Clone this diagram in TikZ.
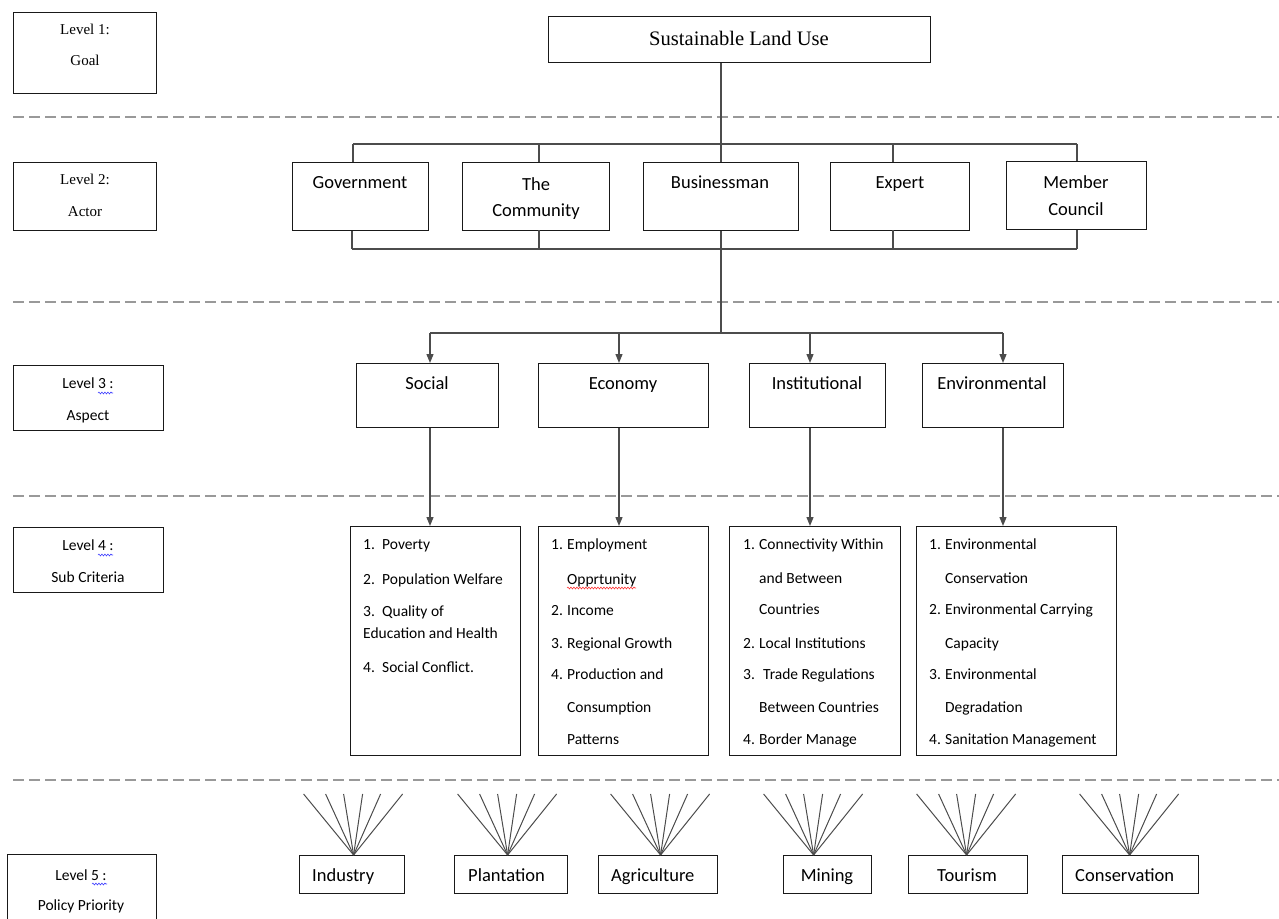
\documentclass[tikz,border=0pt]{standalone}
\usepackage{fontspec}
\setmainfont{Liberation Serif}
\newfontfamily\calfont{Carlito}
\usetikzlibrary{arrows.meta,decorations.pathmorphing}
\newcommand{\bx}[5]{\node[box, anchor=north west, minimum width={(#3-#1)*1pt}, minimum height={(#4-#2)*1pt}] (#5) at (#1,#2) {};}
\newcommand{\li}[4]{\node[sub] (#1) at (#2,#3) {#4};}
\begin{document}
\begin{tikzpicture}[x=1pt,y=-1pt,
  box/.style={draw=black!90, line width=1.2pt, fill=white, inner sep=0pt},
  conn/.style={draw=black!70, line width=1.3pt},
  arr/.style={conn, -{Triangle[length=9pt,width=7pt]}},
  sep/.style={draw=black!40, line width=2.6pt, dash pattern=on 11pt off 5pt},
  lvl/.style={font=\fontsize{15}{17}\selectfont, inner sep=0pt, anchor=base},
  lvls/.style={font=\calfont\fontsize{15.5}{17}\selectfont, inner sep=0pt, anchor=base},
  big/.style={font=\calfont\fontsize{18.5}{20}\selectfont, inner sep=0pt, anchor=base},
  bigw/.style={big, anchor=base west},
  sub/.style={font=\calfont\fontsize{15.5}{17}\selectfont, inner sep=0pt, anchor=base west},
  fan/.style={draw=black!70, line width=1pt},
  wavyb/.style={draw=blue!75, line width=0.6pt, decorate, decoration={snake,amplitude=0.9pt,segment length=3pt}},
  wavyr/.style={draw=red!80, line width=0.6pt, decorate, decoration={snake,amplitude=0.9pt,segment length=3pt}},
]
\useasboundingbox (0,0) rectangle (1279,918);
\clip (0,0) rectangle (1279,918);

% separators
\coordinate (d1a) at (13,117); \coordinate (d1b) at (1279,117);
\coordinate (d2a) at (13,302); \coordinate (d2b) at (1279,302);
\coordinate (d3a) at (13,496); \coordinate (d3b) at (1279,496);
\coordinate (d4a) at (13,780); \coordinate (d4b) at (1279,780);
\draw[sep] (d1a) -- (d1b);
\draw[sep] (d2a) -- (d2b);
\draw[sep] (d3a) -- (d3b);
\draw[sep] (d4a) -- (d4b);

% level boxes
\bx{13}{12}{156}{93}{L1}
\bx{13}{162}{156}{230}{L2}
\bx{13}{365}{163}{430}{L3}
\bx{13}{527}{163}{592}{L4}
\bx{7}{854}{156}{940}{L5}
\node[lvl] (L1a) at (85,34) {Level 1:};
\node[lvl] (L1b) at (85,65) {Goal};
\node[lvl] (L2a) at (85,184) {Level 2:};
\node[lvl] (L2b) at (85,216) {Actor};
\node[lvls] (L3a) at (88,388) {Level 3 :};
\node[lvls] (L3b) at (88,420) {Aspect};
\node[lvls] (L4a) at (88,550) {Level 4 :};
\node[lvls] (L4b) at (88,582) {Sub Criteria};
\node[lvls] (L5a) at (81,880) {Level 5 :};
\node[lvls] (L5b) at (81,910) {Policy Priority};
\coordinate (w3a) at (98,393); \coordinate (w3b) at (113,393);
\coordinate (w4a) at (98,555); \coordinate (w4b) at (113,555);
\coordinate (w5a) at (92,884); \coordinate (w5b) at (107,884);
\draw[wavyb] (w3a) -- (w3b);
\draw[wavyb] (w4a) -- (w4b);
\draw[wavyb] (w5a) -- (w5b);

% goal
\coordinate (tb) at (721,144);
\coordinate (tbL) at (353,144);
\coordinate (tbR) at (1077,144);
\coordinate (bbL) at (352,249);
\coordinate (bbR) at (1077,249);
\coordinate (ab) at (721,333);
\coordinate (a1) at (430,333);
\coordinate (a2) at (619,333);
\coordinate (a3) at (810,333);
\coordinate (a4) at (1003,333);

\draw[conn] (tbL) -- (tbR);
\draw[conn] (bbL) -- (bbR);
\draw[conn] (tb) -- (ab);
\draw[conn] (a1) -- (a4);

\bx{548}{16}{930}{62}{goal}
\node[font=\fontsize{20.6}{22}\selectfont, inner sep=0pt, anchor=base] (goalt) at (739,45) {Sustainable Land Use};
\draw[conn] (tb |- goal.south) -- (tb);

% actors
\bx{292}{162}{428}{230}{gov}
\bx{462}{162}{609}{230}{com}
\bx{643}{162}{798}{230}{bus}
\bx{830}{162}{969}{230}{exp}
\bx{1006}{161}{1146}{229}{mem}
\node[big] (govt) at (360,188) {Government};
\node[big] (comt1) at (536,190) {The};
\node[big] (comt2) at (536,216) {Community};
\node[big] (bust) at (720,188) {Businessman};
\node[big] (expt) at (900,188) {Expert};
\node[big] (memt1) at (1076,188) {Member};
\node[big] (memt2) at (1076,215) {Council};

\draw[conn] (tbL |- gov.north) -- (tbL);
\draw[conn] (539,162) coordinate (ct) -- (ct |- tb);
\draw[conn] (tb |- bus.north) -- (tb);
\draw[conn] (893,162) coordinate (et) -- (et |- tb);
\draw[conn] (tbR |- mem.north) -- (tbR);
\draw[conn] (bbL |- gov.south) -- (bbL);
\draw[conn] (539,230) coordinate (cb) -- (cb |- bbL);
\draw[conn] (893,230) coordinate (eb) -- (eb |- bbL);
\draw[conn] (bbR |- mem.south) -- (bbR);

% aspects
\bx{356}{363}{498}{427}{soc}
\bx{538}{363}{708}{427}{eco}
\bx{749}{363}{885}{427}{ins}
\bx{922}{363}{1063}{427}{envi}
\node[big] (soct) at (427,389) {Social};
\node[big] (ecot) at (623,389) {Economy};
\node[big] (inst) at (817,389) {Institutional};
\node[big] (envt) at (992,389) {Environmental};
\draw[arr] (a1) -- (a1 |- soc.north);
\draw[arr] (a2) -- (a2 |- eco.north);
\draw[arr] (a3) -- (a3 |- ins.north);
\draw[arr] (a4) -- (a4 |- envi.north);

% sub criteria
\bx{350}{526}{520}{755}{ssoc}
\bx{538}{526}{708}{755}{seco}
\bx{729}{526}{900}{755}{sins}
\bx{916}{526}{1116}{755}{senv}
\draw[arr] (a1 |- soc.south) -- (a1 |- ssoc.north);
\draw[arr] (a2 |- eco.south) -- (a2 |- seco.north);
\draw[arr] (a3 |- ins.south) -- (a3 |- sins.north);
\draw[arr] (a4 |- envi.south) -- (a4 |- senv.north);

\li{sa1}{363}{549}{\makebox[19pt][l]{1.}Poverty}
\li{sa2}{363}{584}{\makebox[19pt][l]{2.}Population Welfare}
\li{sa3}{363}{616}{\makebox[19pt][l]{3.}Quality of}
\li{sa4}{363}{638}{Education and Health}
\li{sa5}{363}{672}{\makebox[19pt][l]{4.}Social Conflict.}

\li{sb1}{551}{549}{\makebox[16pt][l]{1.}Employment}
\li{sb2}{567}{584}{Opprtunity}
\li{sb3}{551}{615}{\makebox[16pt][l]{2.}Income}
\li{sb4}{551}{648}{\makebox[16pt][l]{3.}Regional Growth}
\li{sb5}{551}{679}{\makebox[16pt][l]{4.}Production and}
\li{sb6}{567}{712}{Consumption}
\li{sb7}{567}{744}{Patterns}
\coordinate (wra) at (567,588); \coordinate (wrb) at (636,588);
\draw[wavyr] (wra) -- (wrb);

\li{sc1}{743}{549}{\makebox[16pt][l]{1.}Connectivity Within}
\li{sc2}{759}{583}{and Between}
\li{sc3}{759}{614}{Countries}
\li{sc4}{743}{648}{\makebox[16pt][l]{2.}Local Institutions}
\li{sc5}{743}{679}{\makebox[20pt][l]{3.}Trade Regulations}
\li{sc6}{759}{712}{Between Countries}
\li{sc7}{743}{744}{\makebox[16pt][l]{4.}Border Manage}

\li{sd1}{929}{549}{\makebox[16pt][l]{1.}Environmental}
\li{sd2}{945}{583}{Conservation}
\li{sd3}{929}{614}{\makebox[16pt][l]{2.}Environmental Carrying}
\li{sd4}{945}{648}{Capacity}
\li{sd5}{929}{679}{\makebox[16pt][l]{3.}Environmental}
\li{sd6}{945}{712}{Degradation}
\li{sd7}{929}{744}{\makebox[16pt][l]{4.}Sanitation Management}

% policies
\bx{299}{855}{404}{893}{ind}
\bx{454}{855}{567}{893}{pla}
\bx{598}{855}{717}{893}{agr}
\bx{783}{855}{871}{893}{min}
\bx{908}{855}{1027}{893}{tou}
\bx{1062}{855}{1198}{893}{con}
\node[bigw] (indt) at (312,881) {Industry};
\node[bigw] (plat) at (468,881) {Plantation};
\node[bigw] (agrt) at (611,881) {Agriculture};
\node[big] (mint) at (827,881) {Mining};
\node[big] (tout) at (967,881) {Tourism};
\node[bigw] (cont) at (1075,881) {Conservation};

\foreach \n/\s in {ind/1.5, pla/-3.5, agr/2.5, min/-14, tou/-1.5, con/-1}{
  \foreach \dx in {-50,-28,-10,9,27,49}{
    \draw[fan] ([xshift=\s pt]\n.north) -- ++(\dx,-61);
  }
}
\end{tikzpicture}
\end{document}
